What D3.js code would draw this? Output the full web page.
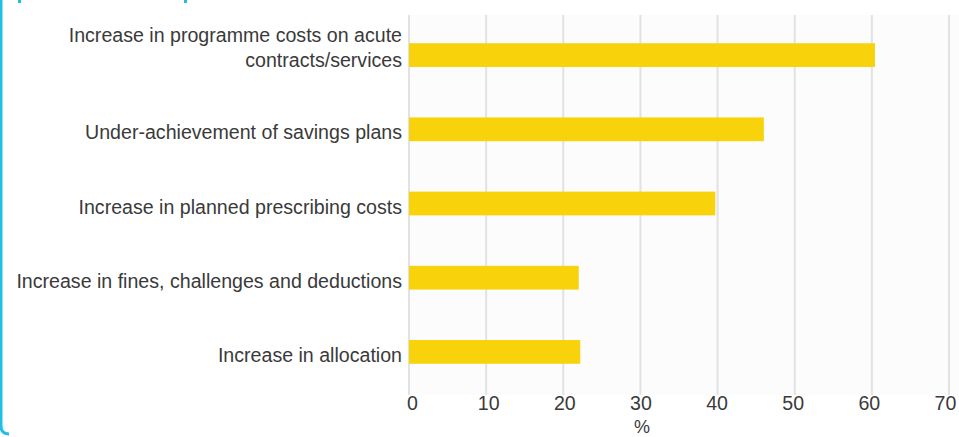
<!DOCTYPE html>
<html>
<head>
<meta charset="utf-8">
<script src="https://cdn.jsdelivr.net/npm/d3@7"></script>
<style>
  body { margin: 0; background: #fff; }
  svg { display: block; }
</style>
</head>
<body>
<svg width="959" height="437"></svg>
<script>
var categories = [
    ["Increase in programme costs on acute", "contracts/services"],
    ["Under-achievement of savings plans"],
    ["Increase in planned prescribing costs"],
    ["Increase in fines, challenges and deductions"],
    ["Increase in allocation"]
];
var values = [60.4, 46.0, 39.7, 22.0, 22.2];
var ticks = [0, 10, 20, 30, 40, 50, 60, 70];
var axisTitle = "%";

var svg = d3.select("svg");
var font = "'Liberation Sans', Arial, sans-serif";

// frame bits from the surrounding box
svg.append("path")
    .attr("d", "M1,0 V426 Q1,434 9,434")
    .attr("fill", "none")
    .attr("stroke", "#1ec0e6")
    .attr("stroke-width", 3);
svg.append("rect").attr("x", 18).attr("y", 0).attr("width", 3).attr("height", 3).attr("fill", "#1ec0e6");
svg.append("rect").attr("x", 184).attr("y", 0).attr("width", 3).attr("height", 3).attr("fill", "#1ec0e6");

var xscale = d3.scaleLinear().domain([0, 70]).range([409, 949]);
// tick labels sit a little inside the grid lines in the original
var xlabels = d3.scaleLinear().domain([0, 70]).range([412, 945]);
var yscale = d3.scaleBand().domain(d3.range(categories.length)).range([18, 389]).paddingInner(0.68).paddingOuter(0.34);

// faint plot background
svg.append("rect")
    .attr("x", xscale(0)).attr("y", 15)
    .attr("width", xscale(70) - xscale(0) + 10).attr("height", 380)
    .attr("fill", "#fcfcfc");

// grid lines
svg.append("g")
    .selectAll("line")
    .data(ticks)
    .enter().append("line")
    .attr("x1", function(d) { return xscale(d); })
    .attr("x2", function(d) { return xscale(d); })
    .attr("y1", 15)
    .attr("y2", 395)
    .attr("stroke", "#e2e2e2")
    .attr("stroke-width", 2);

// bars
svg.append("g")
    .selectAll("rect")
    .data(values)
    .enter().append("rect")
    .attr("x", xscale(0))
    .attr("y", function(d, i) { return yscale(i); })
    .attr("width", function(d) { return xscale(d) - xscale(0); })
    .attr("height", yscale.bandwidth())
    .attr("fill", "#f8d20a");

// category labels
var labels = svg.append("g")
    .attr("font-family", font)
    .attr("font-size", 19.6)
    .attr("fill", "#3a3a3a")
    .attr("text-anchor", "end")
    .selectAll("text")
    .data(categories)
    .enter().append("text")
    .attr("x", 402)
    .attr("y", function(d, i) { return yscale(i) + yscale.bandwidth() / 2; });

labels.selectAll("tspan")
    .data(function(d) { return d; })
    .enter().append("tspan")
    .attr("x", 402)
    .attr("dy", function(d, i, nodes) {
        if (nodes.length == 1) return "10px";
        return i == 0 ? "-13px" : "25px";
    })
    .text(function(d) { return d; });

// bottom axis
var axis = svg.append("g")
    .attr("transform", "translate(0,393)")
    .call(d3.axisBottom(xlabels).tickValues(ticks).tickSize(0).tickPadding(3));
axis.select(".domain").remove();
axis.selectAll("text")
    .attr("font-family", font)
    .attr("font-size", 19.6)
    .attr("fill", "#3a3a3a");

svg.append("text")
    .attr("x", 642)
    .attr("y", 433)
    .attr("text-anchor", "middle")
    .attr("font-family", font)
    .attr("font-size", 18)
    .attr("fill", "#3a3a3a")
    .text(axisTitle);
</script>
</body>
</html>
